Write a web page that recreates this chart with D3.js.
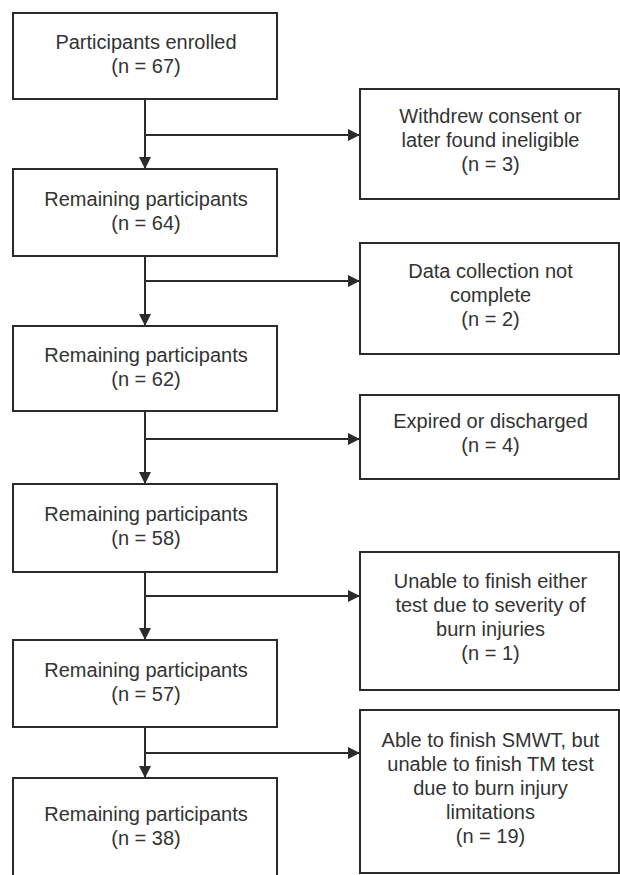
<!DOCTYPE html>
<html>
<head>
<meta charset="utf-8">
<script src="https://cdn.jsdelivr.net/npm/d3@7"></script>
<style>
  body { margin: 0; background: #fff; }
  text { font-family: "Liberation Sans", Arial, sans-serif; }
</style>
</head>
<body>
<svg id="chart"></svg>
<script>
// flow chart data
let mainLabels = ["Participants enrolled", "Remaining participants", "Remaining participants",
                  "Remaining participants", "Remaining participants", "Remaining participants"]
let mainCounts = [67, 64, 62, 58, 57, 38]
let exclLabels = [
    ["Withdrew consent or", "later found ineligible"],
    ["Data collection not", "complete"],
    ["Expired or discharged"],
    ["Unable to finish either", "test due to severity of", "burn injuries"],
    ["Able to finish SMWT, but", "unable to finish TM test", "due to burn injury", "limitations"]
]
let exclCounts = [3, 2, 4, 1, 19]

// layout (pixels)
let svgWidth = 620
let svgHeight = 875
let mainX = [13, 277]
let exclX = [360, 619]
let mainTop = [13, 169, 326, 484, 640, 778]
let mainBottom = [99, 256, 411, 572, 727, 878]
let exclTop = [89, 243, 395, 552, 710]
let exclBottom = [199, 354, 479, 690, 873]
let branchY = [135, 281, 439, 596, 753]
let lineH = 24
let ink = "#2b2b2b"

let svg = d3.select('#chart')
    .attr("width", svgWidth)
    .attr("height", svgHeight)

svg.append("defs").append("marker")
    .attr("id", "arrow")
    .attr("viewBox", "0 0 12 12")
    .attr("refX", 12).attr("refY", 6)
    .attr("markerWidth", 12).attr("markerHeight", 12)
    .attr("markerUnits", "userSpaceOnUse")
    .attr("orient", "auto")
    .append("path")
    .attr("d", "M0,0 L12,6 L0,12 Z")
    .attr("fill", ink)

let cx = (mainX[0] + mainX[1]) / 2

// main boxes
let mainData = mainLabels.map((l, i) => ({lines: [l, "(n = " + mainCounts[i] + ")"], y0: mainTop[i], y1: mainBottom[i]}))
let exclData = exclLabels.map((l, i) => ({lines: l.concat(["(n = " + exclCounts[i] + ")"]), y0: exclTop[i], y1: exclBottom[i]}))

function drawBoxes(data, xr, off) {
    let g = svg.selectAll(null)
        .data(data)
        .enter()
        .append("g")
    g.append("rect")
        .attr("x", xr[0])
        .attr("y", d => d.y0)
        .attr("width", xr[1] - xr[0])
        .attr("height", d => d.y1 - d.y0)
        .attr("fill", "#fff")
        .attr("stroke", ink)
        .attr("stroke-width", 2)
    g.each(function (d) {
        let mid = (d.y0 + d.y1) / 2 + off
        let first = mid - (d.lines.length - 1) / 2 * lineH
        d3.select(this).selectAll("text")
            .data(d.lines)
            .enter()
            .append("text")
            .attr("x", (xr[0] + xr[1]) / 2 + 1)
            .attr("y", (t, j) => first + j * lineH)
            .attr("text-anchor", "middle")
            .attr("font-size", 20)
            .attr("fill", "#333")
            .text(t => t)
    })
}

// vertical connectors
svg.selectAll(null)
    .data(d3.range(mainTop.length - 1))
    .enter()
    .append("line")
    .attr("x1", cx).attr("x2", cx)
    .attr("y1", i => mainBottom[i])
    .attr("y2", i => mainTop[i + 1])
    .attr("stroke", ink)
    .attr("stroke-width", 2)
    .attr("marker-end", "url(#arrow)")

// branches to exclusion boxes
svg.selectAll(null)
    .data(branchY)
    .enter()
    .append("line")
    .attr("x1", cx).attr("x2", exclX[0])
    .attr("y1", d => d).attr("y2", d => d)
    .attr("stroke", ink)
    .attr("stroke-width", 2)
    .attr("marker-end", "url(#arrow)")

drawBoxes(mainData, mainX, 5)
drawBoxes(exclData, exclX, 3)
</script>
</body>
</html>
